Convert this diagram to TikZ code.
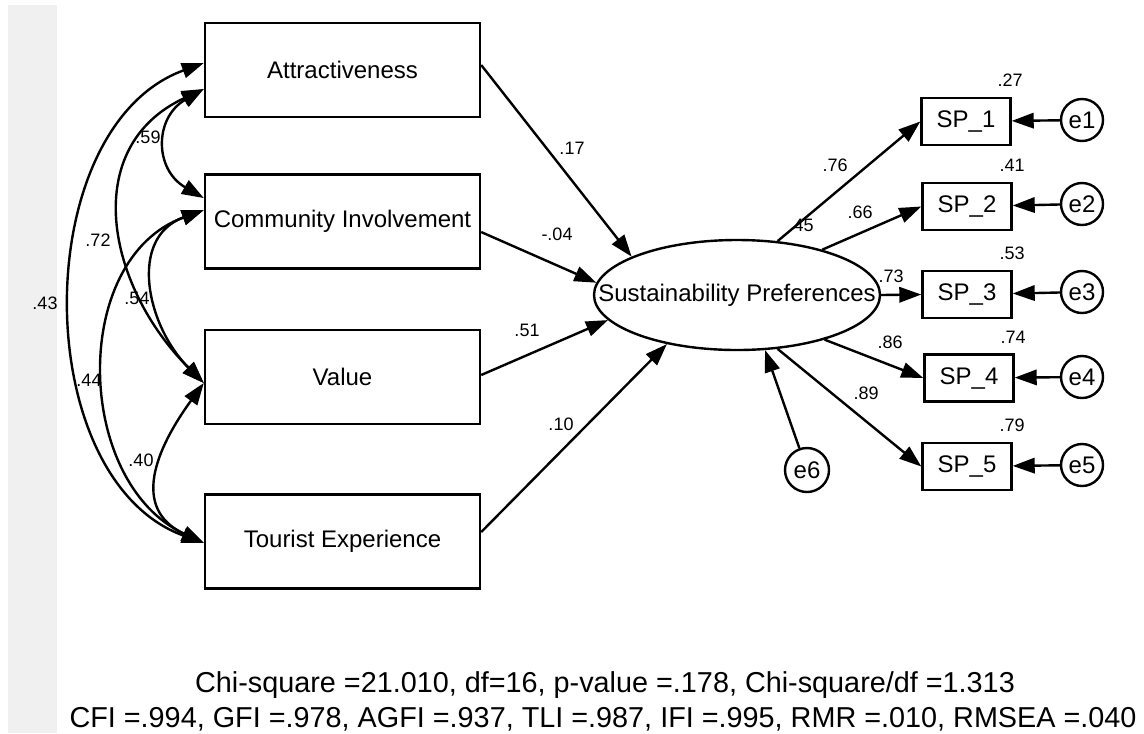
\documentclass[tikz,border=0pt]{standalone}
\usepackage{fontspec}
\setmainfont{Liberation Sans}
\usetikzlibrary{arrows.meta,shapes.geometric}
\begin{document}
\begin{tikzpicture}[x=0.75pt,y=0.75pt,
  obs/.style={draw, line width=1.8pt, minimum width=206.25pt, minimum height=70.5pt, inner sep=0pt, font=\fontsize{18}{21}\selectfont},
  ind/.style={draw, line width=1.8pt, minimum width=66.75pt, minimum height=35.25pt, inner sep=0pt, font=\fontsize{18}{21}\selectfont},
  err/.style={draw, circle, line width=1.8pt, minimum size=31.5pt, inner sep=0pt, font=\fontsize{18}{21}\selectfont},
  latent/.style={draw, ellipse, line width=1.8pt, minimum width=214.5pt, minimum height=82.5pt, inner sep=0pt},
  lbl/.style={font=\fontsize{13.5}{15}\selectfont, inner sep=0pt},
  reg/.style={line width=1.8pt, -{Triangle[length=16.5pt,width=11.5pt]}},
  cov/.style={line width=1.8pt, {Triangle[length=16.5pt,width=11.5pt]}-{Triangle[length=16.5pt,width=11.5pt]}},
  fitline/.style={font=\fontsize{21.6}{26}\selectfont, anchor=base, inner sep=0pt}
]
\useasboundingbox (0,0) rectangle (1144,-733);
\fill[gray!12] (8,-5) rectangle (57,-733);

% observed exogenous boxes
\node[obs] (att) at (342.5,-70) {Attractiveness};
\node[obs] (com) at (342.5,-221.5) {Community Involvement};
\node[obs] (val) at (342.5,-377) {Value};
\node[obs] (tou) at (342.5,-541.5) {Tourist Experience};

% latent
\node[latent] (sp) at (737,-295) {};
\node[font=\fontsize{18}{21}\selectfont, inner sep=0pt] (spt) at (sp) {Sustainability Preferences};

% indicators
\node[ind] (sp1) at (966,-121.5) {SP\_1};
\node[ind] (sp2) at (967,-206.5) {SP\_2};
\node[ind] (sp3) at (967,-294.5) {SP\_3};
\node[ind] (sp4) at (969,-378) {SP\_4};
\node[ind] (sp5) at (967,-466.5) {SP\_5};

% errors
\node[err] (e1) at (1082,-120) {e1};
\node[err] (e2) at (1082,-204) {e2};
\node[err] (e3) at (1082,-292) {e3};
\node[err] (e4) at (1082,-377) {e4};
\node[err] (e5) at (1082,-465) {e5};
\node[err, minimum size=33pt] (e6) at (807,-470) {e6};

% labels
\node[lbl] (l17) at (572,-148) {.17};
\node[lbl] (l04) at (557,-234) {-.04};
\node[lbl] (l51) at (527,-330) {.51};
\node[lbl] (l10) at (561,-424) {.10};
\node[lbl] (l45) at (801,-225) {.45};
\node[lbl] (l76) at (835,-165) {.76};
\node[lbl] (l66) at (860,-212) {.66};
\node[lbl] (l73) at (891,-276) {.73};
\node[lbl] (l86) at (890,-342) {.86};
\node[lbl] (l89) at (866,-393) {.89};
\node[lbl] (r27) at (1010,-80) {.27};
\node[lbl] (r41) at (1012,-165) {.41};
\node[lbl] (r53) at (1012,-253) {.53};
\node[lbl] (r74) at (1013,-337) {.74};
\node[lbl] (r79) at (1012,-425) {.79};
\node[lbl] (c59) at (148,-137) {.59};
\node[lbl] (c72) at (98,-240) {.72};
\node[lbl] (c43) at (45,-303) {.43};
\node[lbl] (c54) at (137,-298) {.54};
\node[lbl] (c44) at (89,-380) {.44};
\node[lbl] (c40) at (141,-460) {.40};

% regression paths
\draw[reg] ([yshift=3.75pt]att.east) -- (sp.160);
\draw[reg] ([yshift=-7.9pt]com.east) -- (sp.175);
\draw[reg] ([yshift=1.5pt]val.east) -- (sp.191);
\draw[reg] ([yshift=7.1pt]tou.east) -- (sp.215);
\draw[reg] (e6) -- (sp.-63);

% loadings
\draw[reg] (sp.53) -- (sp1.west);
\draw[reg] (sp.28) -- (sp2.west);
\draw[reg] (sp.0) -- (sp3.west);
\draw[reg] (sp.-27) -- (sp4.west);
\draw[reg] (sp.-53) -- (sp5.west);

% error arrows
\draw[reg] (e1) -- (sp1);
\draw[reg] (e2) -- (sp2);
\draw[reg] (e3) -- (sp3);
\draw[reg] (e4) -- (sp4);
\draw[reg] (e5) -- (sp5);

% covariance end points
\coordinate (A1) at ([yshift=5.25pt]att.west);
\coordinate (A2) at ([yshift=-14.25pt]att.west);
\coordinate (C1) at ([yshift=17.6pt]com.west);
\coordinate (C2) at ([yshift=8.6pt]com.west);
\coordinate (V) at ([yshift=-4.5pt]val.west);
\coordinate (T) at ([yshift=-1.1pt]tou.west);

\draw[cov] (A1) to[out=200,in=160,looseness=1.0] (T);
\draw[cov] (A2) to[out=205,in=135,looseness=1.2] (V);
\draw[cov] (A2) to[out=210,in=150,looseness=1.35] (C1);
\draw[cov] (C2) to[out=200,in=135,looseness=1.2] (V);
\draw[cov] (C2) to[out=200,in=155,looseness=1.1] (T);
\draw[cov] (V) to[out=234,in=155,looseness=1.3] (T);

% fit indices
\node[fitline] (fit1) at (605,-692) {Chi-square =21.010, df=16, p-value =.178, Chi-square/df =1.313};
\node[fitline] (fit2) at (603,-727) {CFI =.994, GFI =.978, AGFI =.937, TLI =.987, IFI =.995, RMR =.010, RMSEA =.040};
\end{tikzpicture}
\end{document}
